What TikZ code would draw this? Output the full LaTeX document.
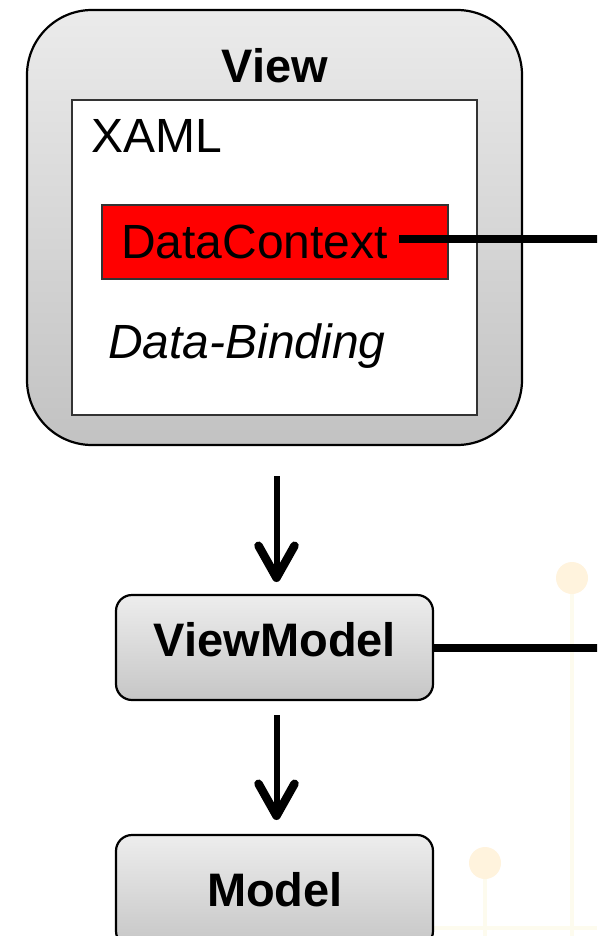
\documentclass[tikz,border=0pt]{standalone}
\usepackage{fontspec}
\setmainfont{Liberation Sans}
\usetikzlibrary{arrows.meta}
\definecolor{boxtop}{HTML}{EBEBEB}
\definecolor{boxbot}{HTML}{C2C2C2}
\definecolor{smalltop}{HTML}{EDEDED}
\definecolor{smallbot}{HTML}{C6C6C6}
\definecolor{edge}{HTML}{333333}
\definecolor{decoline}{HTML}{FDFBEE}
\definecolor{decodot}{HTML}{FFF3DD}
\begin{document}
\begin{tikzpicture}[x=1pt,y=-1pt,
  every node/.style={inner sep=0pt, outer sep=0pt},
  txt/.style={font=\fontsize{48}{52}\selectfont, anchor=base west},
  btxt/.style={font=\fontsize{47}{52}\selectfont\bfseries, anchor=base},
  bigbox/.style={draw=black, line width=2.2pt, rounded corners=65pt,
    top color=boxtop, bottom color=boxbot, minimum width=495pt, minimum height=435pt},
  smallbox/.style={draw=black, line width=2.2pt, rounded corners=16pt,
    top color=smalltop, bottom color=smallbot, minimum width=317pt},
  arr/.style={line width=6pt, -{Straight Barb[round, length=32pt, width=36pt, line width=8.5pt]}},
  link/.style={line width=8pt}]
\useasboundingbox (0,0) rectangle (597,936);
\clip (0,0) rectangle (597,936);
% faint background decoration
\draw[decoline, line width=4pt] (572,590) -- (572,936);
\draw[decoline, line width=4pt] (485,875) -- (485,936);
\draw[decoline, line width=4pt] (433,928) -- (597,928);
\fill[decodot] (572,578) circle (16pt);
\fill[decodot] (485,863) circle (16pt);
% View
\node[bigbox] (view) at (274.5,227.5) {};
\node[draw=edge, line width=1.5pt, fill=white, minimum width=405pt, minimum height=315pt] (xaml) at (274.5,257.5) {};
\node[btxt] (viewtxt) at (275,83) {View};
\node[txt] (xamltxt) at (91,153) {XAML};
\node[draw=edge, line width=1.5pt, fill=red, minimum width=346pt, minimum height=74pt] (dc) at (275,242) {};
\node[txt] (dctxt) at (121,258) {DataContext};
\node[txt, font=\fontsize{48}{52}\selectfont\itshape] (db) at (108,358) {Data-Binding};
% ViewModel and Model
\node[smallbox, minimum height=105pt] (vm) at (274.5,647.5) {};
\node[btxt] (vmtxt) at (275,656) {ViewModel};
\node[smallbox, minimum height=112pt] (model) at (274.5,891) {};
\node[btxt] (modeltxt) at (275,906) {Model};
% connectors
\coordinate (dcstart) at (399,239);
\coordinate (dcend) at (600,239);
\coordinate (vmend) at (600,648);
\draw[link] (dcstart) -- (dcend);
\draw[link] (vm.east |- vmend) -- (vmend);
\draw[arr, shorten <=31pt, shorten >=13pt] ([xshift=2pt]view.south) -- ([xshift=2pt]vm.north);
\draw[arr, shorten <=15pt, shorten >=15pt] ([xshift=2pt]vm.south) -- ([xshift=2pt]model.north);
\end{tikzpicture}
\end{document}
